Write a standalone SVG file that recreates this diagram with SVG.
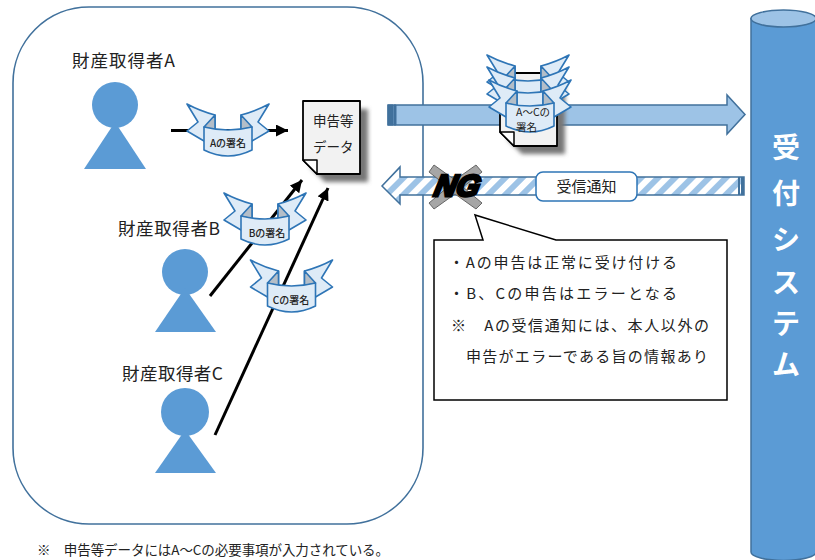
<svg xmlns="http://www.w3.org/2000/svg" width="815" height="560" viewBox="0 0 815 560">
<style>
text{font-family:"Noto Sans CJK JP","Noto Sans",sans-serif;fill:#222}
.name{font-size:17.5px}
.note{font-size:15px}
.rl{font-size:10px;font-weight:500;text-anchor:middle}
.doc{font-size:13.5px}
.person{fill:#5B9BD5}
.ln{stroke:#000;stroke-width:3;fill:none;marker-end:url(#ah)}
.sys{font-size:28px;font-weight:700;fill:#fff;text-anchor:middle}
</style>
<defs>
<marker id="ah" markerUnits="userSpaceOnUse" markerWidth="14" markerHeight="14" refX="12" refY="6" orient="auto"><path d="M0,0L12,6L0,12Z" fill="#000"/></marker>
<pattern id="hatch" width="12" height="12" patternUnits="userSpaceOnUse" patternTransform="rotate(45)"><rect width="12" height="12" fill="#fff"/><rect width="6" height="12" fill="#9DC3E6"/></pattern>
<filter id="blur" x="-20%" y="-20%" width="140%" height="140%"><feGaussianBlur stdDeviation="2"/></filter>
<g id="ribbon" stroke="#2E75B6" stroke-width="1.6" stroke-linejoin="round">
<path d="M-41,0Q-28,7-13,11L-13,28L-24,37L-41,27L-30,18ZM41,0Q28,7 13,11L13,28L24,37L41,27L30,18Z" fill="#DEEBF7"/>
<path d="M-24,23L-13,11L-13,26ZM24,23L13,11L13,26Z" fill="#B4BEC8"/>
<path d="M-24,23Q0,29 24,23L24,46Q0,58-24,46Z" fill="#DEEBF7"/>
</g>
<g id="paper">
<path d="M8,8H65V81H22L8,67Z" fill="#777" filter="url(#blur)"/>
<path d="M0,0H57V73H14L0,59Z" fill="#F2F2F2" stroke="#000" stroke-width="1.8" stroke-linejoin="round"/>
<path d="M0,59H14V73Z" fill="#fff" stroke="#000" stroke-width="1.5" stroke-linejoin="round"/>
</g>
</defs>

<g id="owner-frame"><rect x="13" y="7" width="410" height="517" rx="76" ry="76" fill="#fff" stroke="#41719C" stroke-width="1.6"/></g>

<g id="system">
<path d="M751,18.5V552A32.5,8.5 0 0 0 816,552V18.5Z" fill="#5B9BD5" stroke="#41719C" stroke-width="1.5"/>
<ellipse cx="783.5" cy="18.5" rx="32.5" ry="8.5" fill="#9DC3E6" stroke="#41719C" stroke-width="1.5"/>
<text class="sys" x="786" y="158">受</text>
<text class="sys" x="786" y="204">付</text>
<text class="sys" x="786" y="250">シ</text>
<text class="sys" x="786" y="293">ス</text>
<text class="sys" x="786" y="334">テ</text>
<text class="sys" x="786" y="375">ム</text>
</g>

<g id="connectors">
<path class="ln" d="M171,130.500H288"/>
<path class="ln" d="M210,296L302,180"/>
<path class="ln" d="M215,435L328,188"/>
<path d="M388,105H727V95L745,114.500L727,134V125H388Z" fill="#9DC3E6" stroke="#41719C" stroke-width="1.5"/>
<path d="M388,105h5v20h-5ZM394,105h2v20h-2Z" fill="#41719C" stroke="#41719C"/>
<path d="M744,177H400V167L382,186L400,204V195H744Z" fill="url(#hatch)" stroke="#41719C" stroke-width="1.5"/>
<path d="M738,177h2v18h-2ZM741,177h3v18h-3Z" fill="#41719C"/>
</g>

<g id="person-a"><circle class="person" cx="115" cy="105" r="23"/><path class="person" d="M115,122L146,169H84Z"/><text class="name" x="72" y="67" textLength="103">財産取得者A</text></g>
<g id="person-b"><circle class="person" cx="185" cy="272" r="23"/><path class="person" d="M185,288L216,332H155Z"/><text class="name" x="118" y="235" textLength="102">財産取得者B</text></g>
<g id="person-c"><circle class="person" cx="185" cy="412" r="24"/><path class="person" d="M185,430L216,473H155Z"/><text class="name" x="122" y="380" textLength="101">財産取得者C</text></g>

<g id="sign-a"><use href="#ribbon" x="228" y="104"/><text class="rl" x="228" y="147">Aの署名</text></g>
<g id="sign-b"><use href="#ribbon" x="265" y="193"/><text class="rl" x="267" y="237">Bの署名</text></g>
<g id="sign-c"><use href="#ribbon" x="291.500" y="260"/><text class="rl" x="291" y="304">Cの署名</text></g>

<g id="data-doc"><use href="#paper" x="303" y="101"/><text class="doc" x="313" y="126">申告等</text><text class="doc" x="313" y="152">データ</text></g>

<g id="signed-doc">
<use href="#paper" x="500" y="73"/>
<use href="#ribbon" x="528" y="55"/>
<use href="#ribbon" x="528" y="67"/>
<use href="#ribbon" x="530" y="80"/>
<text x="516" y="116" font-size="10.500">A～Cの</text>
<text x="516" y="131" font-size="10.500">署名</text>
</g>

<g id="receipt"><rect x="536" y="172" width="101" height="29" rx="7" fill="#fff" stroke="#2E75B6" stroke-width="1.5"/><text x="586.500" y="192" font-size="15" text-anchor="middle">受信通知</text></g>

<g id="ng">
<path d="M434,165L455,180L476,165L482,172L463,187L482,203L476,209L455,194L434,209L429,203L448,187L429,172Z" fill="#A6A6A6" stroke="#666" stroke-width="1"/>
<text transform="translate(433,196) skewX(-12)" font-size="30" font-weight="700" font-style="italic" style="font-family:'Liberation Sans',sans-serif;fill:#000;stroke:#000;stroke-width:3">NG</text>
</g>

<g id="callout">
<path d="M434,240H483L475,215L556,240H727V400H434Z" fill="#fff" stroke="#000" stroke-width="1.500"/>
<text class="note" x="449" y="268" textLength="228">・Aの申告は正常に受け付ける</text>
<text class="note" x="449" y="299" textLength="228">・B、Cの申告はエラーとなる</text>
<text class="note" x="451" y="331" textLength="258">※　Aの受信通知には、本人以外の</text>
<text class="note" x="466" y="362" textLength="242">申告がエラーである旨の情報あり</text>
</g>

<text x="37" y="555" font-size="13.500" textLength="352">※　申告等データにはA～Cの必要事項が入力されている。</text>
</svg>
